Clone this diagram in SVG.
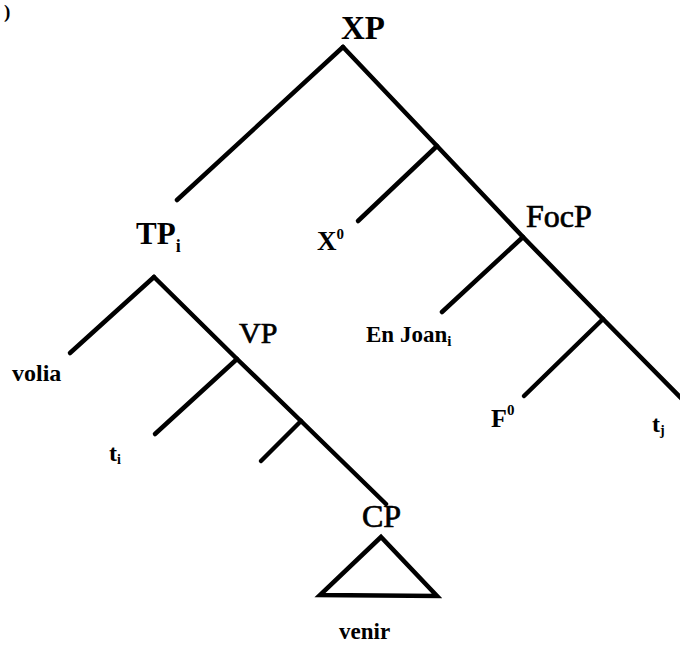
<svg xmlns="http://www.w3.org/2000/svg" width="680" height="646" viewBox="0 0 680 646">
<style>
.e{stroke:#000;stroke-width:4.5;stroke-linecap:round;fill:none}
.t{font-family:"Liberation Serif","Times New Roman",serif;fill:#000}
.b{font-weight:bold}
.m{stroke:#000;stroke-width:0.7}
</style>
<rect width="680" height="646" fill="#fff"/>
<text class="t b" x="4" y="18" font-size="19">)</text>
<g id="connectors">
<line class="e" x1="343" y1="47" x2="177" y2="200"/>
<polyline class="e" points="343,47 437,146 523,237 603,319 684,401"/>
<line class="e" x1="437" y1="146" x2="358" y2="221"/>
<line class="e" x1="523" y1="237" x2="442" y2="312"/>
<line class="e" x1="603" y1="319" x2="524" y2="396"/>
<line class="e" x1="154" y1="277" x2="70" y2="353"/>
<polyline class="e" points="154,277 237,359 301,421 386,504"/>
<line class="e" x1="237" y1="359" x2="155" y2="434"/>
<line class="e" x1="301" y1="421" x2="261" y2="461"/>
</g>
<g id="XP"><text class="t b" x="341" y="39" font-size="33">XP</text></g>
<g id="TP"><text class="t b" x="136" y="244" font-size="31">TP<tspan font-size="18" dy="8">i</tspan></text></g>
<g id="X0"><text class="t b" x="317" y="250" font-size="27">X<tspan font-size="15" dy="-11">0</tspan></text></g>
<g id="FocP"><text class="t m" x="526" y="227" font-size="32">FocP</text></g>
<g id="EnJoan"><text class="t b" x="366" y="342" font-size="23">En Joan<tspan font-size="15" dy="4">i</tspan></text></g>
<g id="volia"><text class="t b" x="12" y="381" font-size="24">volia</text></g>
<g id="VP"><text class="t m" x="239" y="343" font-size="30">VP</text></g>
<g id="F0"><text class="t b" x="491" y="427" font-size="26">F<tspan font-size="15" dy="-12">0</tspan></text></g>
<g id="tj"><text class="t b" x="652" y="432" font-size="24">t<tspan font-size="14" dy="3">j</tspan></text></g>
<g id="ti"><text class="t b" x="109" y="461" font-size="24">t<tspan font-size="14" dy="3">i</tspan></text></g>
<g id="CP"><text class="t m" x="362" y="527" font-size="32">CP</text></g>
<g id="triangle"><polygon class="e" points="381,537 320,595 437,596" stroke-linejoin="miter"/></g>
<g id="venir"><text class="t b" x="339" y="639" font-size="23">venir</text></g>
</svg>
